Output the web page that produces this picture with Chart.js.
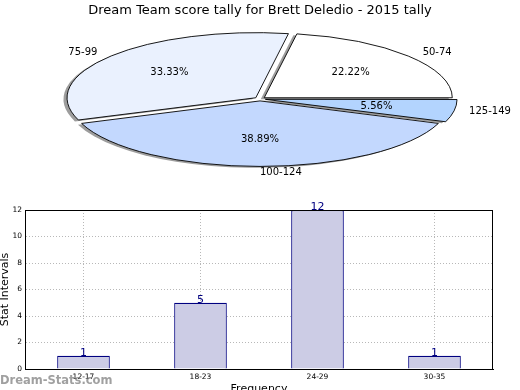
<!DOCTYPE html>
<html lang="en">
<head>
  <meta charset="UTF-8" />
  <title>Dream Team score tally - Brett Deledio</title>
  <script src="https://cdn.jsdelivr.net/npm/chart.js"></script>
  <style>
    html, body { margin: 0; padding: 0; background: #fff; overflow: hidden; }
    body { width: 520px; height: 390px; position: relative; }
    canvas { position: absolute; left: 0; }
    #pieChart { top: 0; }
    #barChart { top: 195px; }
  </style>
</head>
<body>
  <canvas id="barChart" width="520" height="205"></canvas>
  <canvas id="pieChart" width="520" height="195"></canvas>

  <script>
    // pie: score ranges and counts
    const scoreRanges = ['50-74', '75-99', '100-124', '125-149'];
    const scoreCounts = [4, 6, 7, 1];
    const sliceColors = ['#ffffff', '#eaf1fe', '#c3d8fe', '#b3d4fe'];

    // bars: frequency buckets
    const freqBuckets = ['12-17', '18-23', '24-29', '30-35'];
    const freqValues = [1, 5, 12, 1];
    const yTicks = [0, 2, 4, 6, 8, 10, 12];

    const FONT = "'DejaVu Sans', sans-serif";
    const PIE_CY = 99;      // centre of the squashed pie on the page
    const SQUASH = 0.345;   // vertical flattening of the pie

    const total = scoreCounts.reduce((a, b) => a + b, 0);

    // squash + flip the pie so it reads counter-clockwise like the original
    const ellipsePie = {
      id: 'ellipsePie',
      beforeDatasetsDraw(chart) {
        const ctx = chart.ctx;
        const arcs = chart.getDatasetMeta(0).data;
        const cx = arcs[0].x, cy = arcs[0].y;
        const base = ctx.getTransform();
        ctx.save();
        // shadow pass under every wedge
        ctx.save();
        ctx.translate(-3.5, 1.4);
        ctx.translate(cx, PIE_CY);
        ctx.scale(1, -SQUASH);
        ctx.translate(-cx, -cy);
        ctx.fillStyle = 'rgba(60,60,60,0.5)';
        arcs.forEach(a => {
          const mid = (a.startAngle + a.endAngle) / 2;
          const off = (a.options.offset || 0) / 4;
          const circ = a.endAngle - a.startAngle;
          const r = a.outerRadius + off * (1 - Math.sin(Math.min(Math.PI, circ)));
          const ox = a.x + Math.cos(mid) * off, oy = a.y + Math.sin(mid) * off;
          ctx.beginPath();
          ctx.moveTo(ox, oy);
          ctx.arc(ox, oy, r, a.startAngle, a.endAngle);
          ctx.closePath();
          ctx.fill();
        });
        ctx.restore();
        ctx.translate(cx, PIE_CY);
        ctx.scale(1, -SQUASH);
        ctx.translate(-cx, -cy);
        // keep the outline 1px even though the context is squashed
        const stroke = CanvasRenderingContext2D.prototype.stroke;
        ctx.stroke = function () {
          this.save();
          this.setTransform(base);
          stroke.call(this);
          this.restore();
        };
      },
      afterDatasetsDraw(chart) {
        const ctx = chart.ctx;
        delete ctx.stroke;
        ctx.restore();

        const arcs = chart.getDatasetMeta(0).data;
        ctx.save();
        ctx.fillStyle = '#000';
        ctx.font = '10px ' + FONT;
        ctx.textBaseline = 'middle';
        arcs.forEach((a, i) => {
          const mid = (a.startAngle + a.endAngle) / 2;
          const off = (a.options.offset || 0) / 4;
          const c = Math.cos(mid), s = Math.sin(mid);
          const lr = a.outerRadius * 1.1 + off;
          const pr = a.outerRadius * 0.6 + off;
          ctx.textAlign = c > -1e-6 ? 'left' : 'right';
          ctx.fillText(chart.data.labels[i], a.x + c * lr, PIE_CY - s * lr * SQUASH);
          ctx.textAlign = 'center';
          const pct = (100 * scoreCounts[i] / total).toFixed(2) + '%';
          ctx.fillText(pct, a.x + c * pr, PIE_CY - s * pr * SQUASH);
        });
        ctx.restore();
      }
    };

    new Chart(document.getElementById('pieChart'), {
      type: 'pie',
      data: {
        labels: scoreRanges,
        datasets: [{
          data: scoreCounts,
          backgroundColor: sliceColors,
          borderColor: '#000',
          borderWidth: 0.9,
          offset: 22,
          clip: false
        }]
      },
      options: {
        responsive: false,
        animation: false,
        rotation: 90,
        radius: 188,
        events: [],
        layout: { padding: 0 },
        plugins: {
          legend: { display: false },
          tooltip: { enabled: false },
          title: {
            display: true,
            text: 'Dream Team score tally for Brett Deledio - 2015 tally',
            color: '#000',
            font: { family: FONT, size: 13, weight: 'normal' },
            padding: { top: 3, bottom: 0 }
          }
        }
      },
      plugins: [ellipsePie]
    });

    // frame, bar value labels and watermark
    const barExtras = {
      id: 'barExtras',
      afterDatasetsDraw(chart) {
        const ctx = chart.ctx;
        const area = chart.chartArea;
        ctx.save();
        ctx.strokeStyle = '#000';
        ctx.lineWidth = 1;
        ctx.strokeRect(Math.round(area.left) + 0.5, Math.round(area.top) + 0.5,
          Math.round(area.right - area.left) - 1, Math.round(area.bottom - area.top));
        ctx.fillStyle = '#000080';
        ctx.font = '11px ' + FONT;
        ctx.textAlign = 'center';
        ctx.textBaseline = 'alphabetic';
        chart.getDatasetMeta(0).data.forEach((bar, i) => {
          ctx.fillText(String(freqValues[i]), bar.x, bar.y);
        });
        ctx.restore();
      },
      afterDraw(chart) {
        const ctx = chart.ctx;
        ctx.save();
        ctx.fillStyle = 'rgba(120,120,120,0.7)';
        ctx.font = 'bold 11.5px ' + FONT;
        ctx.textAlign = 'left';
        ctx.textBaseline = 'middle';
        ctx.fillText('Dream-Stats.com', 0, 186);
        ctx.restore();
      }
    };

    new Chart(document.getElementById('barChart'), {
      type: 'bar',
      data: {
        labels: freqBuckets,
        datasets: [{
          data: freqValues,
          backgroundColor: '#ccccE5',
          borderColor: '#000080',
          borderWidth: 1.2,
          categoryPercentage: 1,
          barPercentage: 0.45
        }]
      },
      options: {
        responsive: false,
        animation: false,
        events: [],
        layout: { padding: { top: 15, right: 27, bottom: 0, left: 0 } },
        plugins: {
          legend: { display: false },
          tooltip: { enabled: false }
        },
        scales: {
          x: {
            grid: { offset: false, color: '#b8b8b8', drawTicks: false },
            border: { display: true, color: '#000', dash: [1, 2] },
            ticks: { color: '#000', padding: 4, font: { family: FONT, size: 7.5 }, maxRotation: 0 },
            title: {
              display: true, text: 'Frequency', color: '#000',
              font: { family: FONT, size: 11 }, padding: { top: 0, bottom: 4 }
            },
            afterFit(scale) { scale.height = 31; }
          },
          y: {
            min: 0,
            max: 12,
            afterBuildTicks(scale) { scale.ticks = yTicks.map(v => ({ value: v })); },
            grid: { color: '#b8b8b8', drawTicks: false },
            border: { display: true, color: '#000', dash: [1, 2] },
            ticks: { color: '#000', padding: 3, font: { family: FONT, size: 7.5 } },
            title: {
              display: true, text: 'Stat Intervals', color: '#000',
              font: { family: FONT, size: 11, lineHeight: 1 }, padding: 0
            },
            afterFit(scale) { scale.width = 25; }
          }
        }
      },
      plugins: [barExtras]
    });
  </script>
</body>
</html>
